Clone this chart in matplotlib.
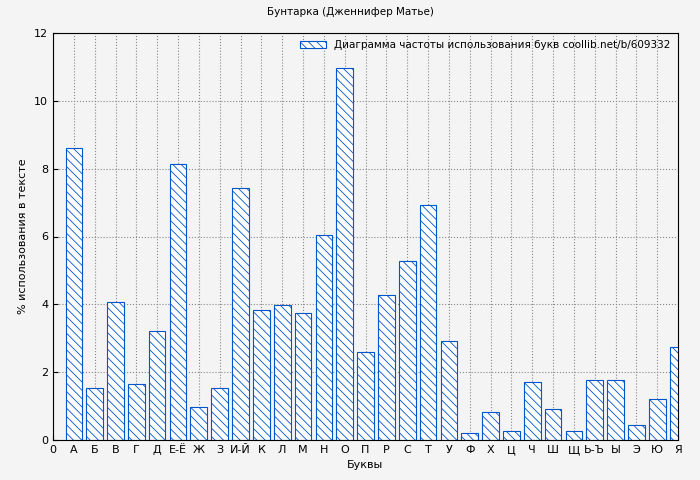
import matplotlib
matplotlib.use('Agg')
import matplotlib.pyplot as plt
import numpy as np

letters = ['А', 'Б', 'В', 'Г', 'Д', 'Е-Ё', 'Ж', 'З', 'И-Й', 'К', 'Л', 'М', 'Н', 'О', 'П',
           'Р', 'С', 'Т', 'У', 'Ф', 'Х', 'Ц', 'Ч', 'Ш', 'Щ', 'Ь-Ъ', 'Ы', 'Э', 'Ю', 'Я']
freq = [8.6, 1.52, 4.08, 1.65, 3.22, 8.13, 0.97, 1.53, 7.42, 3.82, 3.97, 3.73, 6.03, 10.97, 2.6,
        4.28, 5.27, 6.92, 2.93, 0.2, 0.82, 0.27, 1.7, 0.9, 0.27, 1.78, 1.78, 0.43, 1.2, 2.73]

plt.rcParams['hatch.color'] = '#0055cc'
plt.rcParams['hatch.linewidth'] = 0.6
fig = plt.figure(figsize=(7, 4.8), dpi=100, facecolor='#f4f4f4')
ax = fig.add_axes([53/700, 40/480, 625/700, 407/480])
ax.set_facecolor('#f4f4f4')

pos = np.arange(1, len(letters) + 1)
ax.bar(pos, freq, width=0.8, color='white', edgecolor='#0055cc', linewidth=0.8,
       hatch='\\\\\\\\', label='Диаграмма частоты использования букв coollib.net/b/609332', zorder=2)

ax.set_xlim(0, 30)
ax.set_ylim(0, 12)
ax.set_xticks(np.arange(0, 31))
ax.set_xticklabels(['0'] + letters, fontsize=8)
ax.set_yticks(np.arange(0, 13, 2))
ax.tick_params(labelsize=8, direction='in')
ax.grid(True, color='#888888', linestyle=':', linewidth=0.8, zorder=0)
ax.set_xlabel('Буквы', fontsize=8)
ax.set_ylabel('% использования в тексте', fontsize=8)
fig.suptitle('Бунтарка (Дженнифер Матье)', fontsize=7.5, y=0.985)
leg = ax.legend(loc='upper right', fontsize=7.5, frameon=False, handlelength=2.5,
                borderaxespad=0.3)
fig.savefig('out.png', facecolor=fig.get_facecolor())
